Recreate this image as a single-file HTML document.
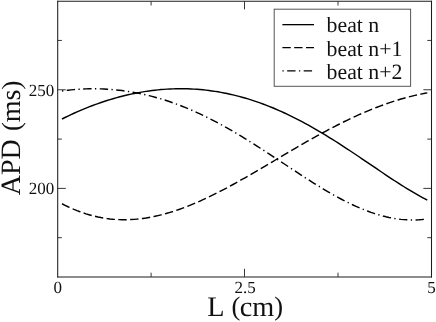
<!DOCTYPE html>
<html><head><meta charset="utf-8"><style>
html,body{margin:0;padding:0;background:#fff;}
svg{display:block;will-change:transform;}
text{font-family:"Liberation Serif",serif;fill:#111;text-rendering:geometricPrecision;}
</style></head><body>
<svg width="436" height="322" viewBox="0 0 436 322">
<rect x="0" y="0" width="436" height="322" fill="#fff"/>
<!-- frame -->
<g stroke="#1c1c1c" stroke-width="1.05" fill="none" stroke-linecap="butt">
<line x1="57.7" y1="0.8" x2="57.7" y2="277.5"/>
<line x1="431.5" y1="0.8" x2="431.5" y2="277.5"/>
<line x1="57.2" y1="1.3" x2="432" y2="1.3"/>
<line x1="57.2" y1="276.95" x2="432" y2="276.95" stroke-width="1.1"/>
</g>
<!-- ticks -->
<g stroke="#222" stroke-width="0.9" fill="none">
<!-- left -->
<line x1="57.7" y1="40.45" x2="61.9" y2="40.45"/>
<line x1="57.7" y1="89.75" x2="65.8" y2="89.75"/>
<line x1="57.7" y1="139.1" x2="61.9" y2="139.1"/>
<line x1="57.7" y1="188.4" x2="65.8" y2="188.4"/>
<line x1="57.7" y1="237.7" x2="61.9" y2="237.7"/>
<!-- right -->
<line x1="431.5" y1="40.45" x2="427.3" y2="40.45"/>
<line x1="431.5" y1="89.75" x2="423.4" y2="89.75"/>
<line x1="431.5" y1="139.1" x2="427.3" y2="139.1"/>
<line x1="431.5" y1="188.4" x2="423.4" y2="188.4"/>
<line x1="431.5" y1="237.7" x2="427.3" y2="237.7"/>
<!-- bottom -->
<line x1="151.1" y1="276.9" x2="151.1" y2="272.7"/>
<line x1="244.5" y1="276.9" x2="244.5" y2="268.8"/>
<line x1="338" y1="276.9" x2="338" y2="272.7"/>
<!-- top -->
<line x1="151.1" y1="1.3" x2="151.1" y2="5.5"/>
<line x1="244.5" y1="1.3" x2="244.5" y2="9.4"/>
<line x1="338" y1="1.3" x2="338" y2="5.5"/>
</g>
<!-- curves -->
<g stroke="#000" stroke-width="1.45" fill="none" stroke-linejoin="round">
<path d="M62.0,119.01 L65.0,117.52 L68.0,116.06 L71.0,114.64 L74.0,113.26 L77.0,111.92 L80.0,110.62 L83.0,109.35 L86.0,108.12 L89.0,106.92 L92.0,105.77 L95.0,104.65 L98.0,103.57 L101.0,102.52 L104.0,101.52 L107.0,100.55 L110.0,99.62 L113.0,98.72 L116.0,97.87 L119.0,97.05 L122.0,96.27 L125.0,95.52 L128.0,94.82 L131.0,94.15 L134.0,93.52 L137.0,92.93 L140.0,92.38 L143.0,91.86 L146.0,91.39 L149.0,90.95 L152.0,90.55 L155.0,90.19 L158.0,89.87 L161.0,89.59 L164.0,89.35 L167.0,89.14 L170.0,88.98 L173.0,88.86 L176.0,88.77 L179.0,88.73 L182.0,88.72 L185.0,88.76 L188.0,88.84 L191.0,88.95 L194.0,89.11 L197.0,89.31 L200.0,89.55 L203.0,89.82 L206.0,90.14 L209.0,90.50 L212.0,90.91 L215.0,91.35 L218.0,91.83 L221.0,92.36 L224.0,92.92 L227.0,93.53 L230.0,94.18 L233.0,94.87 L236.0,95.60 L239.0,96.37 L242.0,97.18 L245.0,98.03 L248.0,98.93 L251.0,99.86 L254.0,100.84 L257.0,101.85 L260.0,102.91 L263.0,104.00 L266.0,105.14 L269.0,106.31 L272.0,107.52 L275.0,108.77 L278.0,110.06 L281.0,111.39 L284.0,112.75 L287.0,114.15 L290.0,115.59 L293.0,117.06 L296.0,118.57 L299.0,120.11 L302.0,121.69 L305.0,123.30 L308.0,124.94 L311.0,126.61 L314.0,128.32 L317.0,130.05 L320.0,131.81 L323.0,133.60 L326.0,135.42 L329.0,137.26 L332.0,139.12 L335.0,141.01 L338.0,142.92 L341.0,144.85 L344.0,146.80 L347.0,148.77 L350.0,150.75 L353.0,152.74 L356.0,154.75 L359.0,156.76 L362.0,158.79 L365.0,160.82 L368.0,162.86 L371.0,164.90 L374.0,166.93 L377.0,168.97 L380.0,171.00 L383.0,173.02 L386.0,175.04 L389.0,177.04 L392.0,179.03 L395.0,180.99 L398.0,182.94 L401.0,184.86 L404.0,186.76 L407.0,188.62 L410.0,190.45 L413.0,192.24 L416.0,193.99 L419.0,195.70 L422.0,197.36 L425.0,198.96 L427.3,200.15"/>
<path d="M62.0,203.76 L65.0,205.29 L68.0,206.75 L71.0,208.12 L74.0,209.42 L77.0,210.64 L80.0,211.77 L83.0,212.83 L86.0,213.82 L89.0,214.72 L92.0,215.55 L95.0,216.30 L98.0,216.97 L101.0,217.57 L104.0,218.09 L107.0,218.54 L110.0,218.91 L113.0,219.21 L116.0,219.44 L119.0,219.60 L122.0,219.69 L125.0,219.71 L128.0,219.66 L131.0,219.54 L134.0,219.36 L137.0,219.11 L140.0,218.80 L143.0,218.42 L146.0,217.99 L149.0,217.49 L152.0,216.93 L155.0,216.32 L158.0,215.65 L161.0,214.92 L164.0,214.14 L167.0,213.31 L170.0,212.42 L173.0,211.49 L176.0,210.51 L179.0,209.48 L182.0,208.40 L185.0,207.28 L188.0,206.11 L191.0,204.91 L194.0,203.66 L197.0,202.38 L200.0,201.06 L203.0,199.70 L206.0,198.31 L209.0,196.89 L212.0,195.43 L215.0,193.95 L218.0,192.44 L221.0,190.90 L224.0,189.33 L227.0,187.74 L230.0,186.13 L233.0,184.50 L236.0,182.85 L239.0,181.18 L242.0,179.49 L245.0,177.79 L248.0,176.08 L251.0,174.35 L254.0,172.61 L257.0,170.86 L260.0,169.11 L263.0,167.34 L266.0,165.57 L269.0,163.80 L272.0,162.03 L275.0,160.25 L278.0,158.47 L281.0,156.70 L284.0,154.92 L287.0,153.15 L290.0,151.39 L293.0,149.63 L296.0,147.88 L299.0,146.14 L302.0,144.40 L305.0,142.68 L308.0,140.97 L311.0,139.27 L314.0,137.59 L317.0,135.92 L320.0,134.27 L323.0,132.64 L326.0,131.02 L329.0,129.42 L332.0,127.85 L335.0,126.29 L338.0,124.76 L341.0,123.25 L344.0,121.76 L347.0,120.30 L350.0,118.86 L353.0,117.45 L356.0,116.07 L359.0,114.71 L362.0,113.39 L365.0,112.09 L368.0,110.83 L371.0,109.59 L374.0,108.39 L377.0,107.21 L380.0,106.07 L383.0,104.97 L386.0,103.90 L389.0,102.86 L392.0,101.85 L395.0,100.89 L398.0,99.96 L401.0,99.06 L404.0,98.20 L407.0,97.38 L410.0,96.60 L413.0,95.86 L416.0,95.15 L419.0,94.48 L422.0,93.86 L425.0,93.27 L427.3,92.84" stroke-dasharray="8.35 3.45"/>
<path d="M62.0,91.01 L65.0,90.59 L68.0,90.22 L71.0,89.89 L74.0,89.60 L77.0,89.36 L80.0,89.16 L83.0,89.00 L86.0,88.88 L89.0,88.80 L92.0,88.76 L95.0,88.77 L98.0,88.81 L101.0,88.90 L104.0,89.02 L107.0,89.18 L110.0,89.39 L113.0,89.63 L116.0,89.91 L119.0,90.23 L122.0,90.59 L125.0,90.99 L128.0,91.44 L131.0,91.92 L134.0,92.44 L137.0,93.00 L140.0,93.60 L143.0,94.24 L146.0,94.92 L149.0,95.64 L152.0,96.40 L155.0,97.20 L158.0,98.04 L161.0,98.92 L164.0,99.84 L167.0,100.80 L170.0,101.80 L173.0,102.84 L176.0,103.92 L179.0,105.04 L182.0,106.20 L185.0,107.39 L188.0,108.63 L191.0,109.90 L194.0,111.21 L197.0,112.56 L200.0,113.94 L203.0,115.36 L206.0,116.81 L209.0,118.30 L212.0,119.82 L215.0,121.38 L218.0,122.97 L221.0,124.59 L224.0,126.24 L227.0,127.92 L230.0,129.63 L233.0,131.36 L236.0,133.12 L239.0,134.91 L242.0,136.72 L245.0,138.56 L248.0,140.41 L251.0,142.28 L254.0,144.18 L257.0,146.09 L260.0,148.01 L263.0,149.95 L266.0,151.91 L269.0,153.87 L272.0,155.84 L275.0,157.82 L278.0,159.80 L281.0,161.78 L284.0,163.77 L287.0,165.76 L290.0,167.74 L293.0,169.72 L296.0,171.69 L299.0,173.66 L302.0,175.61 L305.0,177.55 L308.0,179.47 L311.0,181.38 L314.0,183.27 L317.0,185.13 L320.0,186.97 L323.0,188.79 L326.0,190.57 L329.0,192.33 L332.0,194.05 L335.0,195.74 L338.0,197.38 L341.0,198.99 L344.0,200.56 L347.0,202.08 L350.0,203.55 L353.0,204.97 L356.0,206.34 L359.0,207.66 L362.0,208.92 L365.0,210.13 L368.0,211.27 L371.0,212.36 L374.0,213.37 L377.0,214.33 L380.0,215.21 L383.0,216.03 L386.0,216.77 L389.0,217.44 L392.0,218.03 L395.0,218.55 L398.0,218.99 L401.0,219.36 L404.0,219.64 L407.0,219.84 L410.0,219.96 L413.0,219.99 L416.0,219.94 L419.0,219.81 L422.0,219.59 L425.0,219.28 L427.3,218.99" stroke-dasharray="1.3 3.45 8.385 3.4"/>
</g>
<!-- tick labels -->
<g font-size="17px">
<text x="54.3" y="95.6" text-anchor="end">250</text>
<text x="54.3" y="194.1" text-anchor="end">200</text>
<text x="57.8" y="292.8" text-anchor="middle">0</text>
<text x="245.1" y="292.8" text-anchor="middle">2.5</text>
<text x="431.5" y="292.8" text-anchor="middle">5</text>
</g>
<!-- axis labels -->
<text font-size="28.3px" x="245.2" y="315.8" text-anchor="middle">L <tspan font-size="26.5px" dy="-0.4" dx="0.8">(</tspan><tspan dy="0.4" dx="-0.6">cm</tspan><tspan font-size="26.5px" dy="-0.4">)</tspan></text>
<text font-size="28px" transform="translate(20,138) rotate(-90)" text-anchor="middle">APD <tspan font-size="26.5px" dy="-0.4" dx="1.2">(</tspan><tspan dy="0.4">ms</tspan><tspan font-size="26.5px" dy="-0.4">)</tspan></text>
<!-- legend -->
<rect x="274.2" y="9.2" width="136.4" height="77.1" fill="#fff" stroke="#555" stroke-width="1"/>
<g stroke="#000" stroke-width="1.3" fill="none">
<line x1="282.4" y1="24.65" x2="314" y2="24.65"/>
<line x1="282.4" y1="47.65" x2="314" y2="47.65" stroke-dasharray="8.35 3.45"/>
<line x1="282.4" y1="70.95" x2="314" y2="70.95" stroke-dasharray="1.3 3.45 8.385 3.4"/>
</g>
<g font-size="21.8px">
<text x="326.6" y="31.8">beat n</text>
<text x="326.6" y="55.5">beat n+1</text>
<text x="326.6" y="78.5">beat n+2</text>
</g>
</svg>
</body></html>
